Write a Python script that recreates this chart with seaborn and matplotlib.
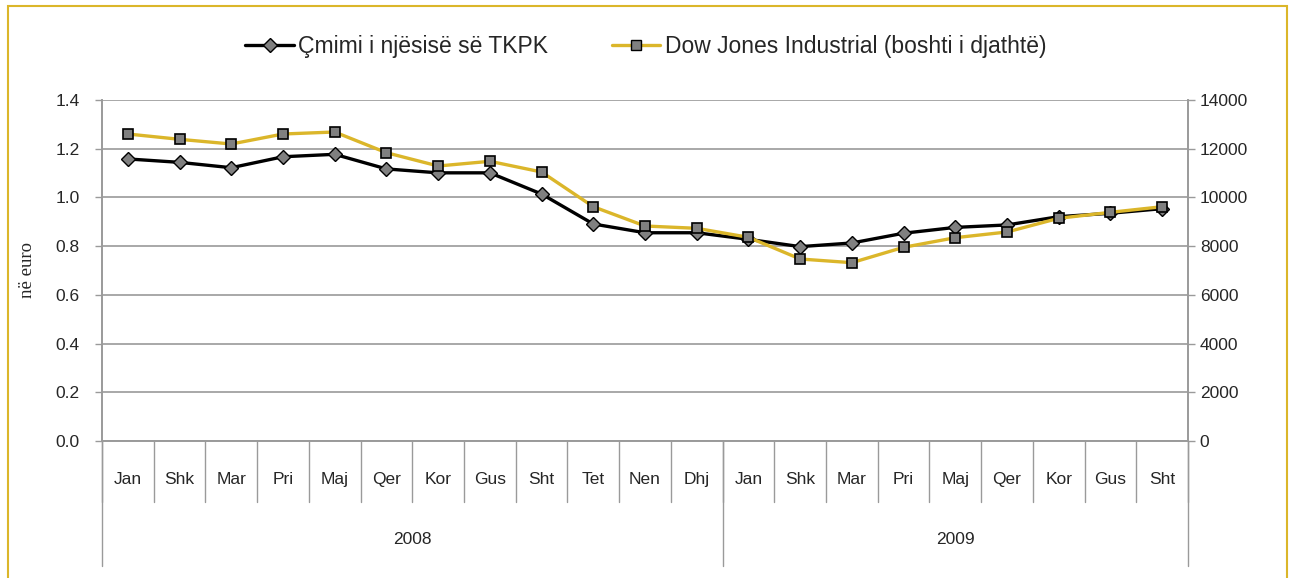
import numpy as np
import pandas as pd
import seaborn as sns
import matplotlib.pyplot as plt
import matplotlib.transforms as mtransforms
from matplotlib.lines import Line2D
from matplotlib.patches import Rectangle

# data
months = ["Jan", "Shk", "Mar", "Pri", "Maj", "Qer", "Kor", "Gus", "Sht", "Tet", "Nen", "Dhj",
          "Jan", "Shk", "Mar", "Pri", "Maj", "Qer", "Kor", "Gus", "Sht"]
years = ["2008"] * 12 + ["2009"] * 9
tkpk = [1.158, 1.144, 1.122, 1.167, 1.177, 1.117, 1.101, 1.101, 1.014, 0.891, 0.855, 0.855,
        0.828, 0.798, 0.813, 0.853, 0.877, 0.887, 0.921, 0.935, 0.954]
dow = [12604, 12386, 12193, 12604, 12686, 11836, 11290, 11483, 11044, 9619, 8827, 8732,
       8363, 7472, 7321, 7952, 8347, 8581, 9143, 9389, 9619]
label_tkpk = "Çmimi i njësisë së TKPK"
label_dow = "Dow Jones Industrial (boshti i djathtë)"

df = pd.DataFrame({"pos": np.arange(len(months)), "month": months, "year": years,
                   "tkpk": tkpk, "dow": dow})

sns.set_theme(style="white")
plt.rcParams['font.family'] = ['Liberation Sans Narrow', 'Liberation Sans', 'DejaVu Sans']

gold = '#DBB62A'
grid_c = '#9a9a9a'

fig, ax = plt.subplots(figsize=(12.92, 5.78), dpi=100)
fig.subplots_adjust(left=102 / 1292, right=1188 / 1292, top=1 - 100 / 578, bottom=1 - 441 / 578)
ax2 = ax.twinx()

sns.lineplot(ax=ax, data=df, x="pos", y="tkpk", color='black', lw=2.4, marker='D', ms=7.5,
             markerfacecolor='#808080', markeredgecolor='black', markeredgewidth=1.0)
sns.lineplot(ax=ax2, data=df, x="pos", y="dow", color=gold, lw=2.4, marker='s', ms=7.5,
             markerfacecolor='#808080', markeredgecolor='black', markeredgewidth=1.2)

ax.set_xlim(-0.5, len(months) - 0.5)
ax.set_ylim(0, 1.4)
ax2.set_ylim(0, 14000)
ax.set_yticks(np.arange(0, 1.41, 0.2))
ax.set_yticklabels([f"{v:.1f}" for v in np.arange(0, 1.41, 0.2)])
ax2.set_yticks(np.arange(0, 14001, 2000))
ax.grid(axis='y', color=grid_c, lw=1.2)
ax.grid(axis='x', visible=False)
ax2.grid(False)

for a in (ax, ax2):
    a.spines['top'].set_visible(False)
    for s in ('left', 'right', 'bottom'):
        a.spines[s].set_color(grid_c)
        a.spines[s].set_linewidth(1.2)
ax.tick_params(axis='y', length=5, width=1, color=grid_c, labelsize=12.5, pad=11)
ax2.tick_params(axis='y', length=5, width=1, color=grid_c, labelsize=12.5, pad=3.5)

ax.set_xlabel("")
ax2.set_xlabel("")
ax2.set_ylabel("")
ax.set_ylabel("në euro", family='Liberation Serif', fontsize=13.5, labelpad=14)

# two level category axis
ax.set_xticks(df["pos"])
ax.set_xticklabels(months, fontsize=12.5)
ax.tick_params(axis='x', length=0, pad=22)
trans = mtransforms.blended_transform_factory(ax.transData, ax.transAxes)
for b in np.arange(-0.5, len(months), 1.0):
    ax.plot([b, b], [0, -61 / 341], transform=trans, color=grid_c, lw=1, clip_on=False)
year_names = list(dict.fromkeys(years))
edges = [-0.5]
for y in year_names:
    edges.append(edges[-1] + years.count(y))
for b in edges:
    ax.plot([b, b], [0, -125 / 341], transform=trans, color=grid_c, lw=1, clip_on=False)
for i, y in enumerate(year_names):
    ax.text((edges[i] + edges[i + 1]) / 2, -99 / 341, y, transform=trans,
            ha='center', va='center', fontsize=12.5)

handles = [Line2D([], [], color='black', lw=2.4, marker='D', ms=7, markerfacecolor='#808080',
                  markeredgecolor='black'),
           Line2D([], [], color=gold, lw=2.4, marker='s', ms=7, markerfacecolor='#808080',
                  markeredgecolor='black')]
fig.legend(handles, [label_tkpk, label_dow], loc='center', bbox_to_anchor=(0.5, 1 - 47 / 578),
           ncol=2, frameon=False, fontsize=16.5, handlelength=2.1, handletextpad=0.2,
           columnspacing=2.8)

fig.patches.append(Rectangle((8 / 1292, -0.01), 1279 / 1292, 1 - 6 / 578 + 0.01,
                             transform=fig.transFigure, fill=False, edgecolor=gold, lw=1.5))

plt.savefig("out.png", dpi=100)
print('finish!')
